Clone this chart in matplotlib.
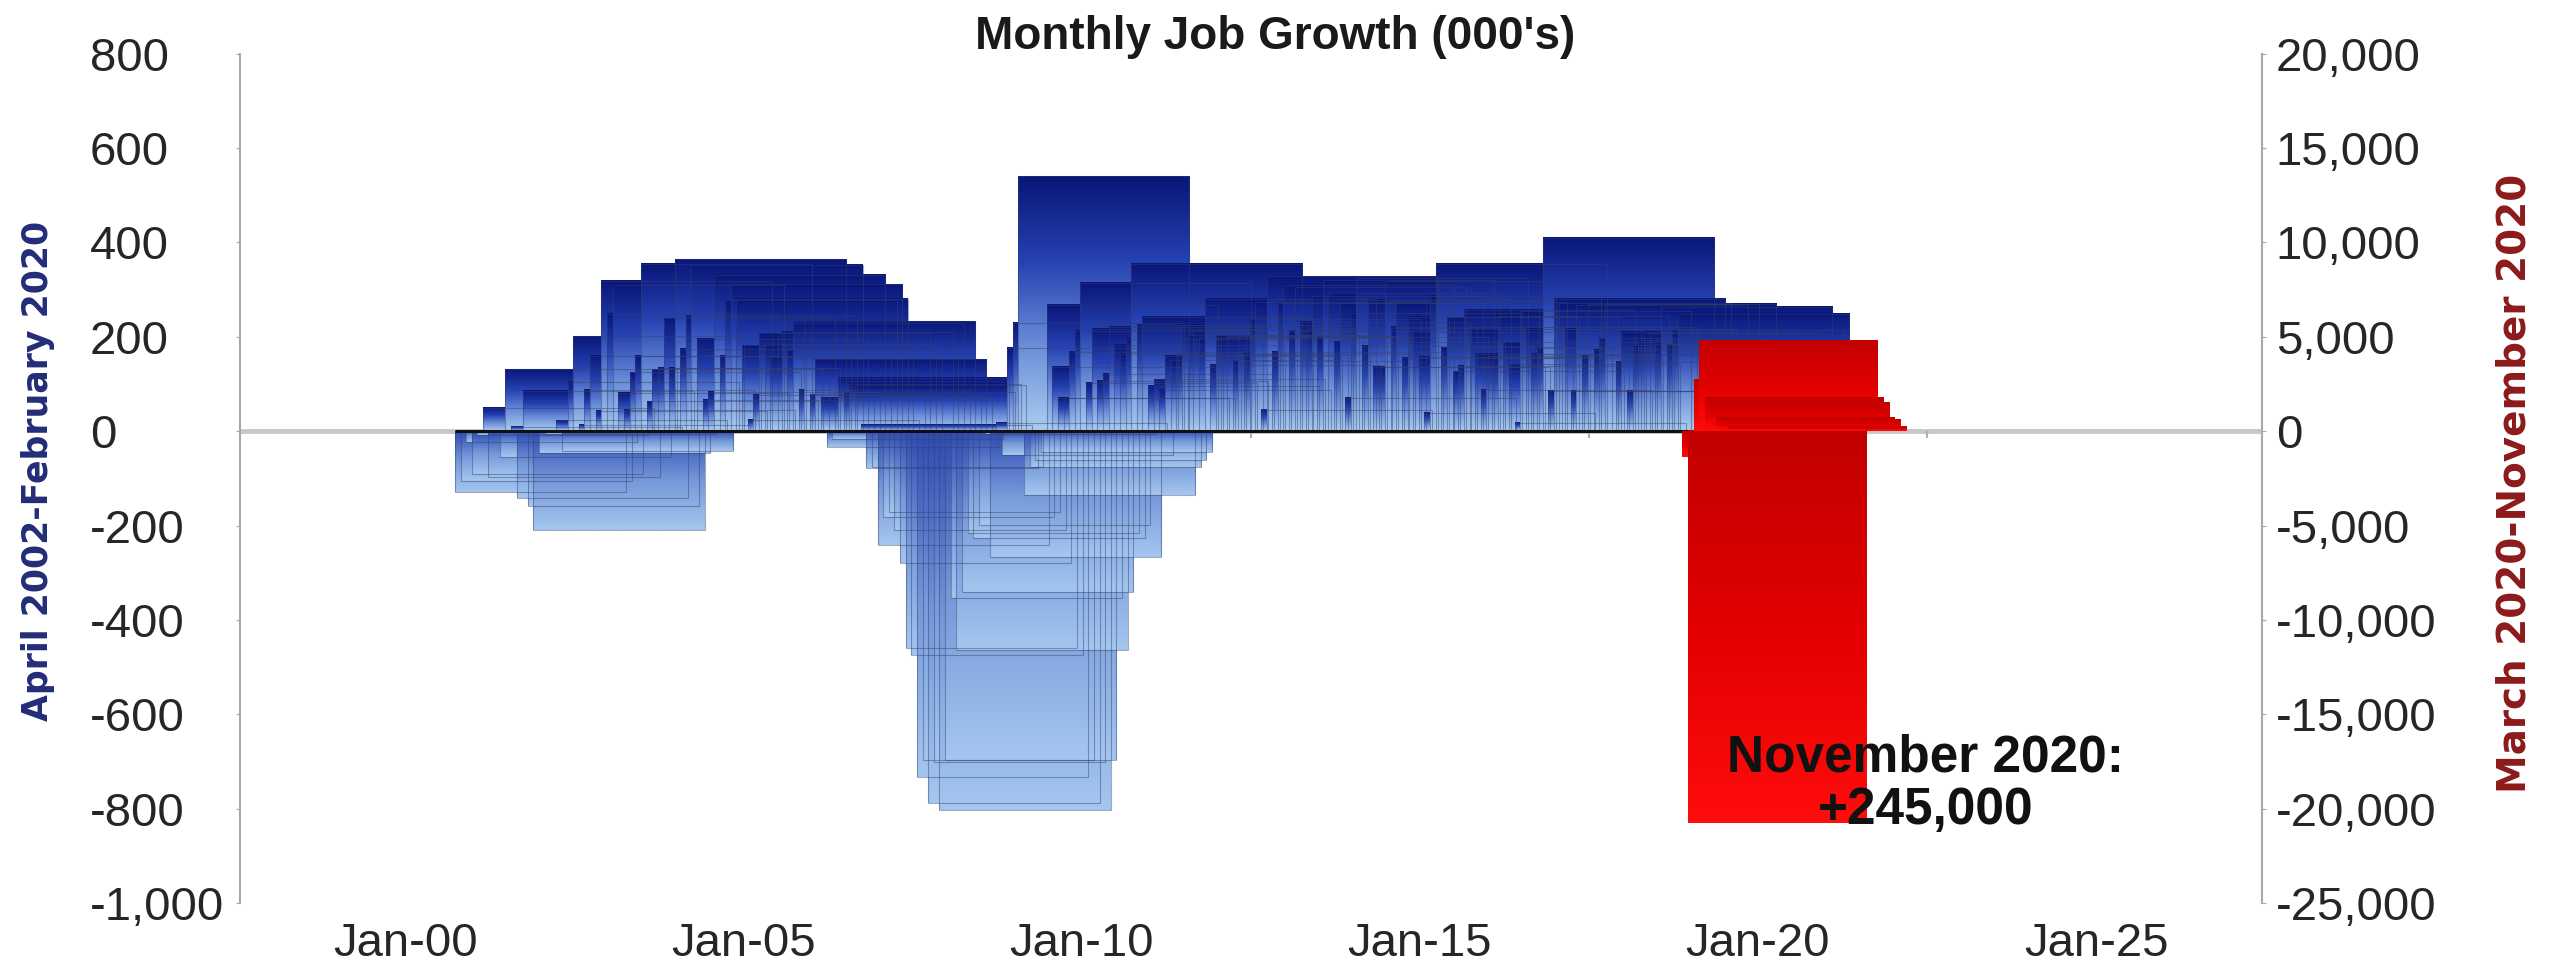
import numpy as np
import pandas as pd
import matplotlib
matplotlib.use('Agg')
import matplotlib.pyplot as plt
import matplotlib.dates as mdates
from matplotlib.colors import LinearSegmentedColormap
from matplotlib.patches import Rectangle
from matplotlib.ticker import FuncFormatter

plt.rcParams['font.family'] = ['Liberation Sans', 'DejaVu Sans']

# monthly change in nonfarm payrolls (000's), Jan 2002 .. Feb 2020 (left axis)
blue_start = '2002-01-01'
blue_values = [
    -129, -105, -24, -90, -8, 49, -97, 1, -55, 131, 9, -142,      # 2002
    86, -159, -209, -47, -6, 0, 23, -41, 104, 201, 14, 88,        # 2003
    160, 43, 318, 249, 310, 81, 45, 125, 160, 354, 63, 131,       # 2004
    134, 239, 134, 364, 175, 245, 353, 196, 67, 84, 332, 159,     # 2005
    277, 311, 280, 182, 24, 77, 207, 184, 157, 2, 210, 171,       # 2006
    230, 88, 233, 78, 152, 71, -33, -16, 113, 82, 100, 97,        # 2007
    13, -79, -77, -241, -182, -172, -210, -280, -460, -474, -732, -697,  # 2008
    -789, -701, -803, -697, -354, -464, -340, -216, -227, -198, -6, -266,  # 2009
    18, -50, 176, 230, 540, -136, -76, -61, -45, 268, 137, 71,    # 2010
    70, 168, 212, 314, 102, 217, 106, 122, 221, 183, 164, 196,    # 2011
    355, 226, 243, 96, 110, 88, 160, 150, 161, 225, 203, 214,     # 2012
    197, 280, 141, 203, 199, 201, 149, 202, 164, 237, 274, 45,    # 2013
    328, 168, 272, 310, 213, 306, 232, 218, 286, 200, 320, 292,   # 2014
    190, 271, 70, 251, 325, 181, 278, 137, 137, 318, 221, 273,    # 2015
    155, 243, 210, 158, 39, 287, 355, 178, 241, 127, 138, 257,    # 2016
    216, 164, 88, 160, 155, 244, 188, 142, 17, 255, 220, 164,     # 2017
    176, 410, 85, 281, 271, 217, 86, 268, 161, 269, 172, 197,     # 2018
    270, 1, 147, 210, 85, 182, 194, 207, 208, 185, 263, 184,      # 2019
    214, 249,                                                     # 2020
]

# March 2020 .. November 2020 (right axis)
red_start = '2020-03-01'
red_values = [-1373, -20787, 2725, 4781, 1761, 1493, 711, 610, 245]

left_ticks = list(range(-1000, 801, 200))
right_ticks = list(range(-25000, 20001, 5000))
x_range = ['1997-07-23', '2027-06-14']
zero_ticks = ['1997-07-01', '2002-07-01', '2007-07-01', '2012-07-01', '2017-07-01', '2022-07-01']

blue_dates = pd.date_range(blue_start, periods=len(blue_values), freq='MS')
red_dates = pd.date_range(red_start, periods=len(red_values), freq='MS')

blue_up = LinearSegmentedColormap.from_list('bu', ['#aacbf0', '#6a8ed8', '#2642b2', '#0a177a'])
blue_down = LinearSegmentedColormap.from_list('bd', ['#a4c6ee', '#7598da', '#2e4cb2'])
red_map = LinearSegmentedColormap.from_list('rd', ['#ff0c0c', '#e20000', '#c20000'])

grad = np.linspace(0, 1, 64).reshape(-1, 1)


def draw_bars(ax, dates, values, width_days, cmap_up, cmap_down, edge=None, shift=0):
    """Dibuja barras anchas y solapadas con relleno degradado"""
    for d, v in zip(dates, values):
        if v == 0:
            continue
        c = mdates.date2num(d) + shift
        x0, x1 = c - width_days / 2, c + width_days / 2
        y0, y1 = min(v, 0), max(v, 0)
        cmap = cmap_up if v > 0 else cmap_down
        ax.imshow(grad, extent=[x0, x1, y0, y1], origin='lower', aspect='auto',
                  cmap=cmap, interpolation='bilinear')
        if edge:
            ax.add_patch(Rectangle((x0, y0), x1 - x0, y1 - y0, fill=False,
                                   edgecolor=edge, linewidth=0.8, alpha=0.45))


fig = plt.figure(figsize=(25.52, 9.68), dpi=100)
ax = fig.add_axes([0.0940, 0.06715, 0.79232, 0.87737])

xmin, xmax = mdates.date2num(pd.to_datetime(x_range))

# zero line
ax.axhline(0, color='#c8c8c8', linewidth=3.5, zorder=0)
ax.vlines(mdates.date2num(pd.to_datetime(zero_ticks)), -14, 0, color='#b0b0b0', linewidth=1.5, zorder=0)

blue_width = 924
draw_bars(ax, blue_dates, blue_values, blue_width, blue_up, blue_down, edge='#34406e')
bx = mdates.date2num(blue_dates)
ax.hlines(0, bx[0] - blue_width / 2, bx[-1] + blue_width / 2, color='#101010', linewidth=2.2)

ax.set_xlim(xmin, xmax)
ax.set_ylim(-1000, 800)
ax.set_yticks(left_ticks)
ax.yaxis.set_major_formatter(FuncFormatter(lambda v, p: f'{v:,.0f}'))
ax.xaxis.set_major_locator(mdates.YearLocator(5))
ax.xaxis.set_major_formatter(mdates.DateFormatter('%b-%y'))

for s in ['top', 'right', 'bottom']:
    ax.spines[s].set_visible(False)
ax.spines['left'].set_color('#a8a8a8')
ax.spines['left'].set_linewidth(1.5)
ax.tick_params(axis='y', length=3, color='#a8a8a8', labelsize=34, labelcolor='#262626', pad=105)
for lbl in ax.get_yticklabels():
    lbl.set_ha('left')
ax.tick_params(axis='x', length=0, labelsize=34, labelcolor='#262626', pad=14)

# segundo eje para marzo-noviembre 2020
ax2 = ax.twinx()
draw_bars(ax2, red_dates, red_values, 965, red_map, red_map, shift=14)
ax2.set_xlim(xmin, xmax)
ax2.set_ylim(-25000, 20000)
ax2.set_yticks(right_ticks)
ax2.yaxis.set_major_formatter(FuncFormatter(lambda v, p: f'{v:,.0f}'))
for s in ['top', 'left', 'bottom']:
    ax2.spines[s].set_visible(False)
ax2.spines['right'].set_color('#a8a8a8')
ax2.spines['right'].set_linewidth(1.5)
ax2.tick_params(axis='y', length=3, color='#a8a8a8', labelsize=34, labelcolor='#262626', pad=7)

ax2.text(mdates.date2num(pd.Timestamp('2022-06-25')), -18700,
         f'{red_dates[-1]:%B %Y}:\n+{red_values[-1] * 1000:,}',
         ha='center', va='center', fontsize=37, fontweight='bold', linespacing=1.08, color='#111111')

fig.text(0.4996, 1 - 37 / 968, "Monthly Job Growth (000's)", ha='center', va='center',
         fontsize=33, fontweight='bold', color='#1a1a1a')
fig.text(38.5 / 2552, 1 - 471 / 968, 'April 2002-February 2020', rotation=90, ha='center', va='center',
         fontsize=25, fontweight='bold', color='#222c78', family='DejaVu Sans')
fig.text(2515 / 2552, 1 - 483 / 968, 'March 2020-November 2020', rotation=90, ha='center', va='center',
         fontsize=28, fontweight='bold', color='#8c1a1a', family='DejaVu Sans')

fig.savefig('out.png', dpi=100)
